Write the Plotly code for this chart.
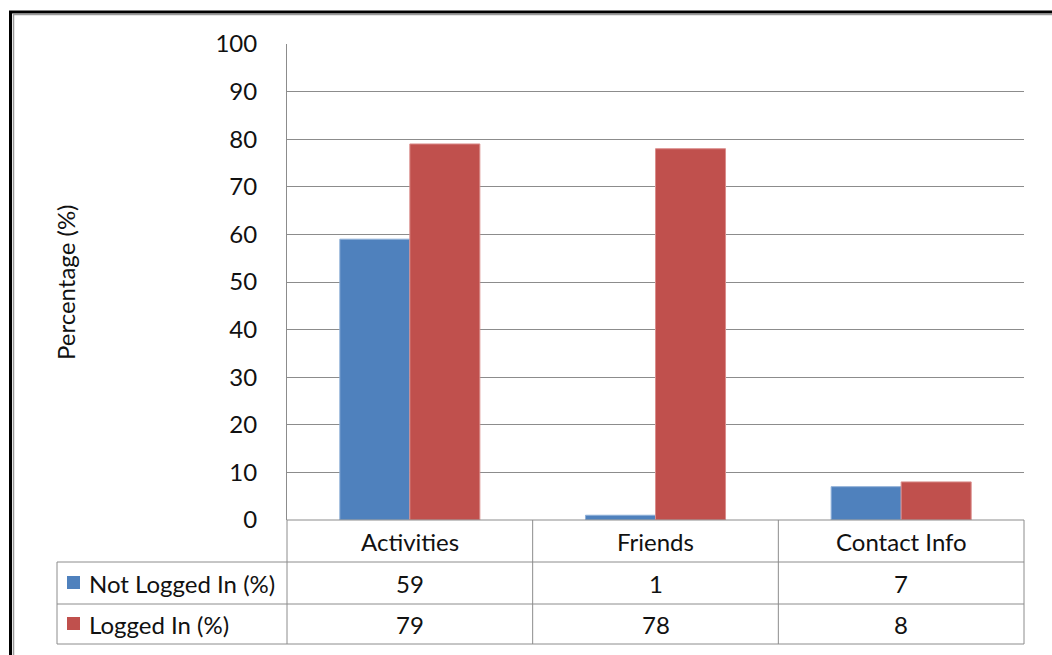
import plotly.graph_objects as go

categories = ["Activities", "Friends", "Contact Info"]
series_names = ["Not Logged In (%)", "Logged In (%)"]
not_logged_in = [59, 1, 7]
logged_in = [79, 78, 8]
series_values = [not_logged_in, logged_in]
colors = ["#4F81BD", "#C0504D"]
edge_colors = ["#8FB0D8", "#DA8E8C"]
y_ticks = [0, 10, 20, 30, 40, 50, 60, 70, 80, 90, 100]

W, H = 1052, 655
FONT = "Lato"
FS = 24
TXT = "#111111"
GRID = "#8C8C8C"


def px(x):
    return x / W


def py(y):
    return 1 - y / H


plot_l, plot_r, plot_t, plot_b = 287, 1024, 44, 520
row_lines = [520, 562, 604, 644]
table_left = 57

fig = go.Figure()
for name, vals, c, ec in zip(series_names, series_values, colors, edge_colors):
    fig.add_trace(go.Bar(
        x=categories, y=vals, name=name,
        marker=dict(color=c, line=dict(color=ec, width=1)),
        showlegend=False,
    ))

shapes = []
annotations = []

# table horizontal lines
shapes.append(dict(type="line", xref="paper", yref="paper",
                   x0=px(plot_l), x1=px(plot_r), y0=py(row_lines[0]), y1=py(row_lines[0]),
                   line=dict(color=GRID, width=1)))
for yy in row_lines[1:]:
    shapes.append(dict(type="line", xref="paper", yref="paper",
                       x0=px(table_left), x1=px(plot_r), y0=py(yy), y1=py(yy),
                       line=dict(color=GRID, width=1)))
# table vertical lines
band = (plot_r - plot_l) / len(categories)
for i in range(len(categories) + 1):
    xx = plot_l + i * band
    shapes.append(dict(type="line", xref="paper", yref="paper",
                       x0=px(xx), x1=px(xx), y0=py(row_lines[0]), y1=py(row_lines[-1]),
                       line=dict(color=GRID, width=1)))
shapes.append(dict(type="line", xref="paper", yref="paper",
                   x0=px(table_left), x1=px(table_left), y0=py(row_lines[1]), y1=py(row_lines[-1]),
                   line=dict(color=GRID, width=1)))

# category labels
for cat in categories:
    annotations.append(dict(x=cat, xref="x", y=py((row_lines[0] + row_lines[1]) / 2), yref="paper",
                            text=cat, showarrow=False, xanchor="center", yanchor="middle",
                            font=dict(family=FONT, size=FS, color=TXT)))
# value rows
for r, (name, vals, c) in enumerate(zip(series_names, series_values, colors)):
    yc = (row_lines[r + 1] + row_lines[r + 2]) / 2
    for cat, v in zip(categories, vals):
        annotations.append(dict(x=cat, xref="x", y=py(yc), yref="paper",
                                text=str(v), showarrow=False, xanchor="center", yanchor="middle",
                                font=dict(family=FONT, size=FS, color=TXT)))
    annotations.append(dict(x=px(87), xref="paper", y=py(yc), yref="paper",
                            text=name, showarrow=False, xanchor="left", yanchor="middle",
                            font=dict(family=FONT, size=FS, color=TXT)))
    shapes.append(dict(type="rect", xref="paper", yref="paper",
                       x0=px(67), x1=px(80), y0=py(yc + 6), y1=py(yc - 7),
                       fillcolor=c, line=dict(width=0)))

# y axis title
annotations.append(dict(x=px(65), xref="paper", y=py((plot_t + plot_b) / 2), yref="paper",
                        text="Percentage (%)", textangle=-90, showarrow=False,
                        xanchor="center", yanchor="middle",
                        font=dict(family=FONT, size=FS, color=TXT)))

# outer frame (cut off on right/bottom)
shapes.append(dict(type="rect", xref="paper", yref="paper",
                   x0=px(10.5), x1=px(W + 20), y0=py(12), y1=py(H + 20),
                   line=dict(color="#000000", width=3), fillcolor="rgba(0,0,0,0)", layer="above"))
shapes.append(dict(type="rect", xref="paper", yref="paper",
                   x0=px(13.5), x1=px(W + 20), y0=py(14.5), y1=py(H + 20),
                   line=dict(color="#9A9A9A", width=1.5), fillcolor="rgba(0,0,0,0)", layer="above"))

fig.update_layout(
    width=W, height=H,
    margin=dict(l=0, r=0, t=0, b=0, pad=0, autoexpand=False),
    paper_bgcolor="white", plot_bgcolor="white",
    barmode="group", bargap=0.43, bargroupgap=0,
    xaxis=dict(domain=[px(plot_l), px(plot_r)], showticklabels=False, showgrid=False,
               zeroline=False, showline=False, automargin=False, ticks=""),
    yaxis=dict(domain=[py(plot_b), py(plot_t)], range=[0, 100], tickvals=y_ticks,
               showgrid=True, gridcolor=GRID, gridwidth=1, zeroline=False,
               showline=True, linecolor=GRID, linewidth=1, automargin=False,
               ticks="outside", ticklen=0, ticklabelstandoff=24,
               tickfont=dict(family=FONT, size=FS, color=TXT)),
    shapes=shapes,
    annotations=annotations,
)

fig.write_html("out.html")
